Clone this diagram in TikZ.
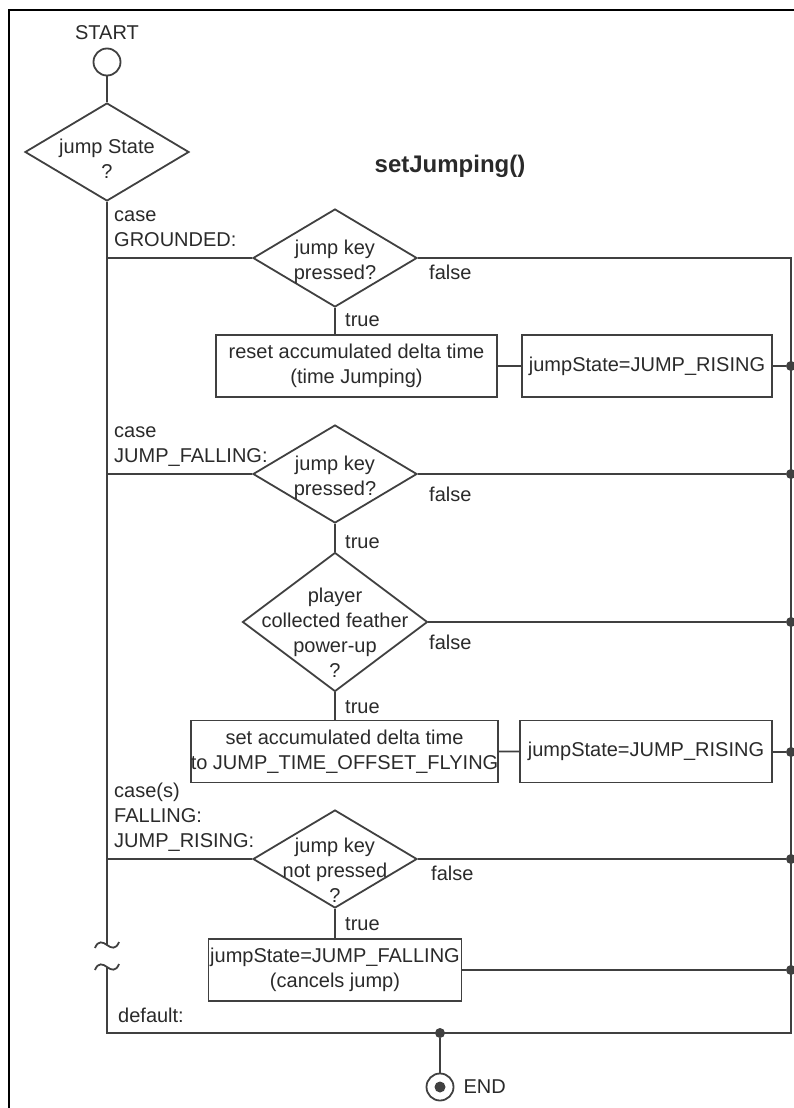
\documentclass[tikz,border=0pt]{standalone}
\usepackage{fontspec}
\setmainfont{Liberation Sans}
\usetikzlibrary{positioning, shapes.geometric, calc}
\definecolor{lineGray}{HTML}{404040}
\definecolor{textDark}{HTML}{2A2A2A}

\begin{document}
\begin{tikzpicture}[x=1pt, y=-1pt,
    every node/.style={font=\fontsize{20}{25}\selectfont\color{textDark}},
    flow/.style={draw=lineGray, line width=1.8pt},
    dec/.style={diamond, draw=lineGray, line width=1.8pt, aspect=1.67,
                minimum width=164, minimum height=98, inner sep=0pt},
    act/.style={rectangle, draw=lineGray, line width=1.8pt, align=center,
                minimum height=62, inner sep=0pt},
    term/.style={circle, draw=lineGray, line width=1.8pt,
                 minimum size=27, inner sep=0pt},
    lbl/.style={inner sep=1pt, align=left},
    junc/.style={circle, fill=lineGray, inner sep=0pt, minimum size=10},
  ]
    \useasboundingbox (0,0) rectangle (794,1108);
    \draw[line width=2.4pt, black] (9,1108) -- (9,10) -- (794,10);

    % start and switch
    \node[lbl] (startLbl) at (107,33) {START};
    \node[term] (start) at (107,62) {};
    \node[dec, label={[lbl, align=center, yshift=-7]center:{jump State\\?}}]
      (dState) at (107,152) {};
    \node[font=\fontsize{24}{28}\selectfont\bfseries\color{textDark}]
      (title) at (450,166) {setJumping()};

    % case GROUNDED
    \node[dec, label={[lbl, align=center, yshift=-4]center:{jump key\\pressed?}}]
      (dJump1) at (335,258) {};
    \node[act, minimum width=281] (resetT) at (356.5,366)
      {reset accumulated delta time\\(time Jumping)};
    \node[act, minimum width=250] (rise1) at (647,366) {jumpState=JUMP\_RISING};

    % case JUMP_FALLING
    \node[dec, label={[lbl, align=center, yshift=-4]center:{jump key\\pressed?}}]
      (dJump2) at (335,474) {};
    \node[dec, minimum width=185, minimum height=139, aspect=1.33,
          label={[lbl, align=center, yshift=-11]center:{player\\collected feather\\power-up\\?}}]
      (dFeather) at (335,622) {};
    \node[act, minimum width=296] (setT) at (344.5,751.5)
      {set accumulated delta time\\to JUMP\_TIME\_OFFSET\_FLYING};
    \node[act, minimum width=252] (rise2) at (646,751.5) {jumpState=JUMP\_RISING};

    % case(s) FALLING, JUMP_RISING
    \node[dec, label={[lbl, align=center, yshift=-11]center:{jump key\\not pressed\\?}}]
      (dRelease) at (335,859) {};
    \node[act, minimum width=253] (fallS) at (335,970)
      {jumpState=JUMP\_FALLING\\(cancels jump)};

    % case labels
    \node[lbl, anchor=west] (caseG) at (113,229) {case\\GROUNDED:};
    \node[lbl, anchor=west] (caseJF) at (113,447) {case\\JUMP\_FALLING:};
    \node[lbl, anchor=west] (caseR) at (113,817) {case(s)\\FALLING:\\JUMP\_RISING:};
    \node[lbl, anchor=west] (caseD) at (117,1015) {default:};

    % true / false
    \node[lbl, anchor=west] (f1) at (428,272) {false};
    \node[lbl, anchor=west] (f2) at (428,494) {false};
    \node[lbl, anchor=west] (f3) at (428,642) {false};
    \node[lbl, anchor=west] (f4) at (430,873) {false};
    \node[lbl, anchor=west] (t1) at (344,320) {true};
    \node[lbl, anchor=west] (t2) at (344,542) {true};
    \node[lbl, anchor=west] (t3) at (344,707) {true};
    \node[lbl, anchor=west] (t4) at (344,924) {true};

    % right rail junctions
    \node[junc] (j1) at (791,366) {};
    \node[junc] (j2) at (791,474) {};
    \node[junc] (j3) at (791,622) {};
    \node[junc] (j4) at (791,752) {};
    \node[junc] (j5) at (791,859) {};
    \node[junc] (j6) at (791,970) {};
    \coordinate (railTop) at (791,258);
    \coordinate (railEnd) at (791,1033);
    \coordinate (spineEnd) at (107,1033);
    \coordinate (brkA) at (107,945);
    \coordinate (brkB) at (107,967);
    \node[junc] (jEnd) at (440,1033) {};
    \node[term] (end) at (440,1087) {};
    \fill[lineGray] (end.center) circle (5.5);
    \node[lbl, right=8pt of end] (endLbl) {END};

    % connectors
    \draw[flow] (start) -- (dState.north);
    \draw[flow] (dState.south) -- (brkA);
    \foreach \b in {brkA, brkB}
      \draw[flow] ($(\b)+(-12,3)$) .. controls +(3,-8) and +(-4,-3) .. (\b)
        .. controls +(4,3) and +(-3,8) .. ($(\b)+(12,-3)$);
    \draw[flow] (brkB) -- (spineEnd) -- (railEnd) -- (railTop) -- (dJump1.east);
    \draw[flow] (dState.south |- dJump1.west) -- (dJump1.west);
    \draw[flow] (dJump1.south) -- (dJump1.south |- resetT.north);
    \draw[flow] (resetT) -- (rise1) -- (j1);
    \draw[flow] (dState.south |- dJump2.west) -- (dJump2.west);
    \draw[flow] (dJump2.east) -- (j2);
    \draw[flow] (dJump2.south) -- (dFeather.north);
    \draw[flow] (dFeather.east) -- (j3);
    \draw[flow] (dFeather.south) -- (dFeather.south |- setT.north);
    \draw[flow] (setT) -- (rise2) -- (j4);
    \draw[flow] (dState.south |- dRelease.west) -- (dRelease.west);
    \draw[flow] (dRelease.east) -- (j5);
    \draw[flow] (dRelease.south) -- (fallS.north);
    \draw[flow] (fallS.east) -- (j6);
    \draw[flow] (jEnd) -- (end);
\end{tikzpicture}
\end{document}
